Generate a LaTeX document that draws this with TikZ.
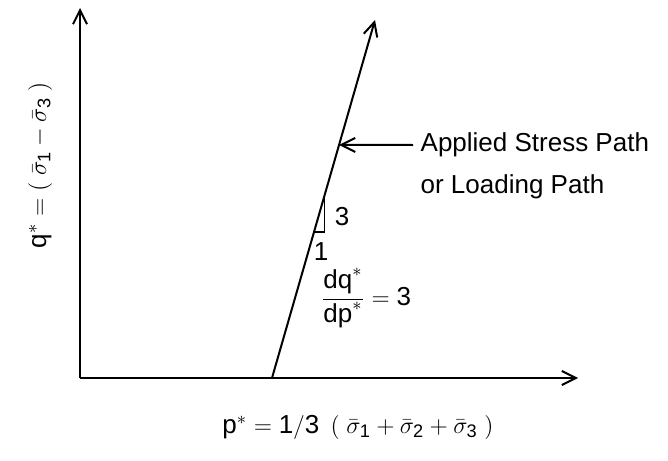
\documentclass[tikz,border=0pt]{standalone}
\usepackage{fontspec}
\setmainfont{Liberation Sans}
\usetikzlibrary{arrows.meta}
\usetikzlibrary{calc,positioning}

\begin{document}
\begin{tikzpicture}[x=0.5pt, y=-0.5pt, line width=1pt,
    >={Straight Barb[length=7pt,width=7pt]},
    font=\fontsize{13}{15}\selectfont]
  \useasboundingbox (0,0) rectangle (668,460);

  \coordinate (O) at (80,378);
  \coordinate (qtop) at (80,8);
  \coordinate (pend) at (578,378);
  \coordinate (S0) at (272,378);
  \coordinate (S1) at (375,20);

  \draw[->] (O) -- (qtop);
  \draw[->] (O) -- (pend);
  \draw[->] (S0) -- (S1);

  % slope triangle
  \coordinate (T1) at ($(S0)!0.511!(S1)$);
  \coordinate (T2) at ($(S0)!0.408!(S1)$);
  \draw[line width=0.8pt] (T1) -- (T1 |- T2) -- (T2);
  \node (three) at (342,217) {3};
  \node (one) at (321,252) {1};

  \node[anchor=west] (lab1) at (413,145) {Applied Stress Path};
  \node[below=1pt of lab1.south west, anchor=north west] (lab2) {or Loading Path};
  \coordinate (A) at ($(S0)!0.651!(S1)$);
  \draw[->] (lab1.west) -- (A);

  \node (slope) at (366,298) {$\displaystyle\frac{\mathrm{dq}^{*}}{\mathrm{dp}^{*}} = \mathrm{3}$};

  \node[rotate=90] (qlab) at (40,165) {$\mathrm{q}^{*} = (\;\bar{\sigma}_{\mathrm{1}} - \bar{\sigma}_{\mathrm{3}}\;)$};
  \node (plab) at (358,427) {$\mathrm{p}^{*} = \mathrm{1/3}\ \,(\;\bar{\sigma}_{\mathrm{1}} + \bar{\sigma}_{\mathrm{2}} + \bar{\sigma}_{\mathrm{3}}\;)$};
\end{tikzpicture}
\end{document}
